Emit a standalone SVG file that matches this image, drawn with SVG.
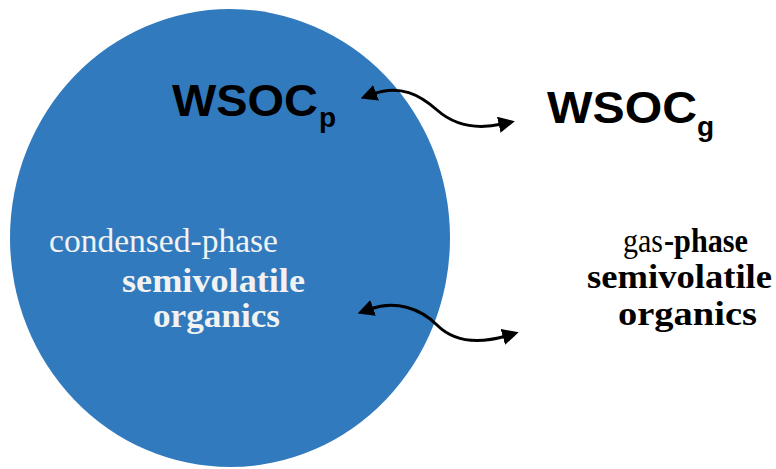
<svg xmlns="http://www.w3.org/2000/svg" width="776" height="469" viewBox="0 0 776 469">
<style>
.sans{font-family:"Liberation Sans",Arial,sans-serif;font-weight:bold;}
.serif{font-family:"Liberation Serif","Times New Roman",serif;}
.in{fill:#f2f2f2;}
.out{fill:#000;}
.b{font-weight:bold;}
.conn{fill:none;stroke:#000;stroke-width:3;}
</style>
<defs>
<marker id="ah" viewBox="0 0 10 10" refX="2" refY="5" markerWidth="5.5" markerHeight="5.5" orient="auto-start-reverse" markerUnits="strokeWidth">
<path d="M0,0 L10,5 L0,10 z" fill="#000"/>
</marker>
</defs>
<g id="particle">
<ellipse cx="230" cy="238" rx="220" ry="229" fill="#317abd"/>
<text class="serif in" x="49" y="252" font-size="34" textLength="229" lengthAdjust="spacingAndGlyphs">condensed-phase</text>
<text class="serif in b" x="122" y="292" font-size="34" textLength="183" lengthAdjust="spacingAndGlyphs">semivolatile</text>
<text class="serif in b" x="153" y="327" font-size="34" textLength="127" lengthAdjust="spacingAndGlyphs">organics</text>
</g>
<g id="wsocp">
<text class="sans out" x="172" y="116" font-size="45" textLength="146" lengthAdjust="spacingAndGlyphs">WSOC</text>
<text class="sans out" x="319" y="127" font-size="28">p</text>
</g>
<g id="wsocg">
<text class="sans out" x="547" y="123" font-size="45" textLength="150" lengthAdjust="spacingAndGlyphs">WSOC</text>
<text class="sans out" x="697" y="136" font-size="28">g</text>
</g>
<g id="gas">
<text class="serif out" x="623" y="252" font-size="34" textLength="40" lengthAdjust="spacingAndGlyphs">gas</text>
<text class="serif out b" x="664" y="252" font-size="34" textLength="84" lengthAdjust="spacingAndGlyphs">-phase</text>
<text class="serif out b" x="587" y="288" font-size="34" textLength="185" lengthAdjust="spacingAndGlyphs">semivolatile</text>
<text class="serif out b" x="618" y="325" font-size="34" textLength="139" lengthAdjust="spacingAndGlyphs">organics</text>
</g>
<g id="connectors">
<path class="conn" d="M373,94 C400,84 420,95 437,110 S475,130 502,124" marker-start="url(#ah)" marker-end="url(#ah)"/>
<path class="conn" d="M370,309 C395,300 420,308 437,325 S478,344 506,336" marker-start="url(#ah)" marker-end="url(#ah)"/>
</g>
</svg>
